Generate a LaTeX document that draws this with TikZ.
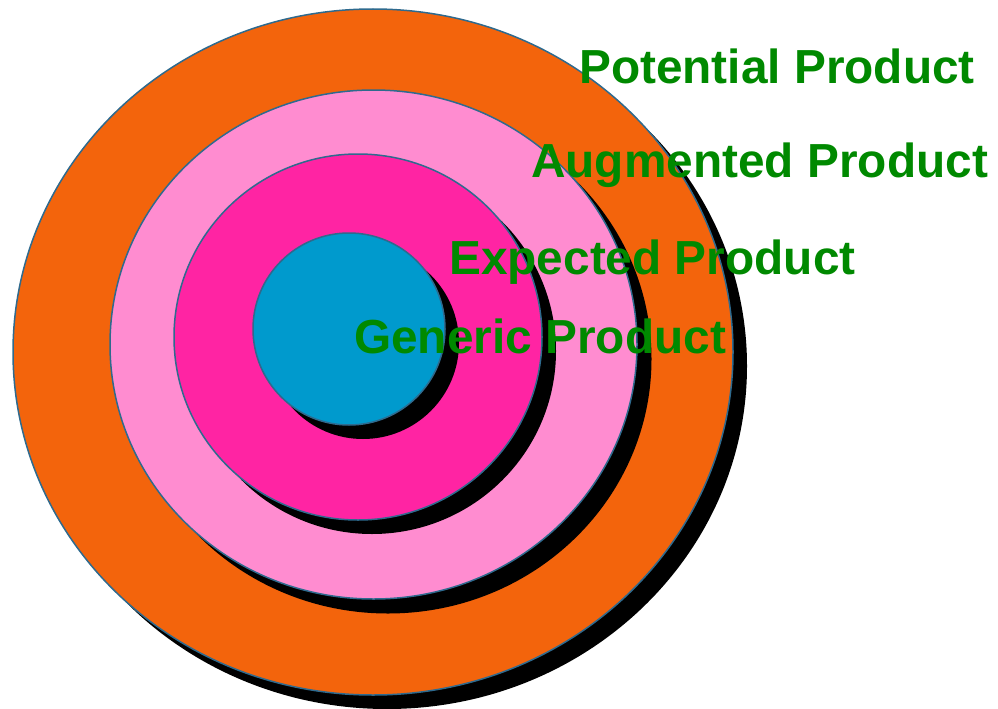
\documentclass[tikz,border=0pt]{standalone}
\usepackage{fontspec}
\setmainfont{Liberation Sans}
\definecolor{ringorange}{RGB}{243,100,12}
\definecolor{ringpink}{RGB}{255,140,208}
\definecolor{ringmagenta}{RGB}{255,36,163}
\definecolor{ringblue}{RGB}{0,154,205}
\definecolor{ringline}{RGB}{46,106,142}
\definecolor{labelgreen}{RGB}{0,137,0}
\tikzset{
  ring/.style={draw=ringline, line width=1.5pt},
  shade/.style={fill=black},
  lbl/.style={anchor=base west, inner sep=0pt, text=labelgreen, font=\fontsize{47.8}{48}\selectfont\bfseries}
}
\begin{document}
\begin{tikzpicture}[x=1pt,y=-1pt]
\useasboundingbox (0,0) rectangle (998,709);
% outer
\fill[shade] (387,366) ellipse [x radius=360, y radius=343];
\fill[ring, fill=ringorange] (373,352) ellipse [x radius=360, y radius=343];
% pink
\fill[shade] (388,359) ellipse [x radius=263.5, y radius=254.5];
\fill[ring, fill=ringpink] (373.5,344.5) ellipse [x radius=263.5, y radius=254.5];
% magenta
\fill[shade] (372,351) ellipse [x radius=184, y radius=183];
\fill[ring, fill=ringmagenta] (358,337) ellipse [x radius=184, y radius=183];
% blue
\fill[shade] (363,343) ellipse [x radius=96, y radius=96];
\fill[ring, fill=ringblue] (349,329) ellipse [x radius=96, y radius=96];
% labels
\node[lbl] (potential) at (579,83) {Potential Product};
\node[lbl] (augmented) at (531,177) {Augmented Product};
\node[lbl] (expected) at (449,274) {Expected Product};
\node[lbl] (generic) at (354,353) {Generic Product};
\end{tikzpicture}
\end{document}
